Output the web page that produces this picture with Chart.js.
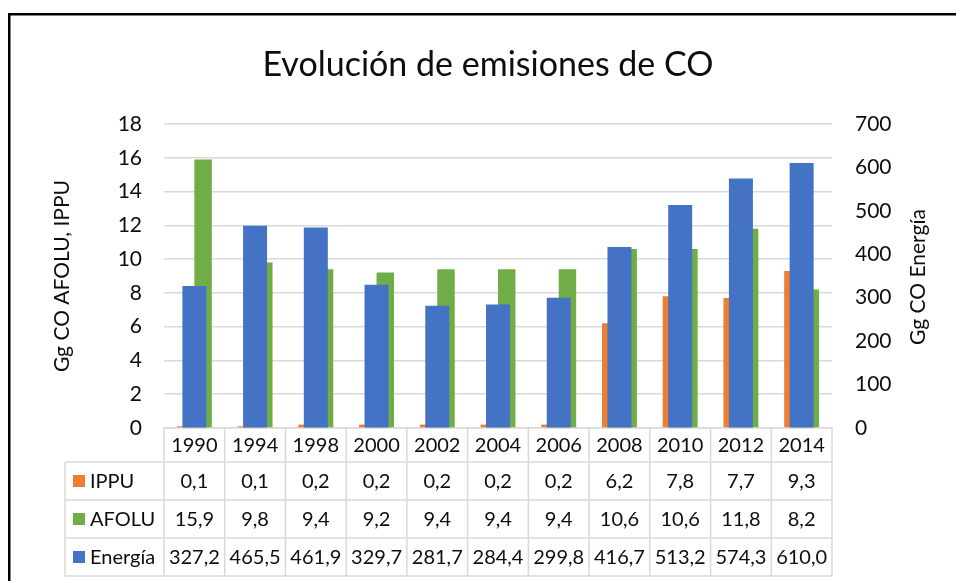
<!DOCTYPE html>
<html>
<head>
<meta charset="utf-8">
<title>Evolución de emisiones de CO</title>
<script src="https://cdn.jsdelivr.net/npm/chart.js@4.4.0/dist/chart.umd.min.js"></script>
<style>
    html, body { margin: 0; padding: 0; background: #fff; overflow: hidden; }
    #caja { position: relative; width: 956px; height: 581px; }
</style>
</head>
<body>
<div id="caja"><canvas id="grafico" width="956" height="581"></canvas></div>
<script>
// datos
const years = ['1990', '1994', '1998', '2000', '2002', '2004', '2006', '2008', '2010', '2012', '2014'];
const ippu = [0.1, 0.1, 0.2, 0.2, 0.2, 0.2, 0.2, 6.2, 7.8, 7.7, 9.3];
const afolu = [15.9, 9.8, 9.4, 9.2, 9.4, 9.4, 9.4, 10.6, 10.6, 11.8, 8.2];
const energia = [327.2, 465.5, 461.9, 329.7, 281.7, 284.4, 299.8, 416.7, 513.2, 574.3, 610.0];
const leftMax = 18, leftStep = 2;
const rightMax = 700, rightStep = 100;

const fuente = 'Lato, "Open Sans", sans-serif';
const gris = '#d9d9d9';
const texto = '#0d0d0d';

const series = [
    { name: 'IPPU', color: '#ED7D31', data: ippu },
    { name: 'AFOLU', color: '#70AD47', data: afolu },
    { name: 'Energía', color: '#4472C4', data: energia }
];

function fmt(v) {
    return v.toFixed(1).replace('.', ',');
}

// titulo, marco, titulo derecho y tabla de datos
const extras = {
    id: 'extras',
    afterDraw(chart) {
        const ctx = chart.ctx;
        const x = chart.scales.x;
        const area = chart.chartArea;
        const n = years.length;
        const w = (x.right - x.left) / n;
        const headBottom = 462, rowH = 38, legLeft = 65;
        const tableBottom = headBottom + rowH * series.length;

        ctx.save();
        // marco
        ctx.fillStyle = '#000';
        ctx.fillRect(8, 13, 948, 2.5);
        ctx.fillRect(8, 13, 2.5, 568);

        // titulo
        ctx.font = '34px ' + fuente;
        ctx.fillStyle = texto;
        ctx.textAlign = 'center';
        ctx.textBaseline = 'middle';
        ctx.fillText('Evolución de emisiones de CO', 488, 65);

        // titulo eje derecho
        ctx.save();
        ctx.translate(918, 277);
        ctx.rotate(-Math.PI / 2);
        ctx.font = '21px ' + fuente;
        ctx.fillText('Gg CO Energía', 0, 0);
        ctx.restore();

        // lineas de la tabla
        ctx.strokeStyle = gris;
        ctx.lineWidth = 1.5;
        ctx.beginPath();
        for (let i = 0; i <= n; i++) {
            const px = x.left + i * w;
            ctx.moveTo(px, area.bottom);
            ctx.lineTo(px, tableBottom);
        }
        for (let r = 0; r <= series.length; r++) {
            const py = headBottom + r * rowH;
            ctx.moveTo(legLeft, py);
            ctx.lineTo(x.right, py);
        }
        ctx.moveTo(legLeft, headBottom);
        ctx.lineTo(legLeft, tableBottom);
        ctx.stroke();

        // filas
        ctx.font = '20px ' + fuente;
        series.forEach(function(s, r) {
            const cy = headBottom + r * rowH + rowH / 2;
            ctx.fillStyle = s.color;
            ctx.fillRect(73, cy - 6, 12, 12);
            ctx.fillStyle = texto;
            ctx.textAlign = 'left';
            ctx.fillText(s.name, 90, cy + 1);
            ctx.textAlign = 'center';
            for (let i = 0; i < n; i++) {
                ctx.fillText(fmt(s.data[i]), x.getPixelForValue(i), cy + 1);
            }
        });
        ctx.restore();
    }
};

const box = document.getElementById('grafico');
const chart = new Chart(box, {
    type: 'bar',
    data: {
        labels: years,
        datasets: [
            {
                label: 'IPPU', data: ippu, backgroundColor: series[0].color,
                yAxisID: 'y', order: 1, categoryPercentage: 0.575, barPercentage: 1
            },
            {
                label: 'AFOLU', data: afolu, backgroundColor: series[1].color,
                yAxisID: 'y', order: 1, categoryPercentage: 0.575, barPercentage: 1
            },
            {
                label: 'Energía', data: energia, backgroundColor: series[2].color,
                yAxisID: 'y1', order: 0, grouped: false, categoryPercentage: 1, barPercentage: 0.395
            }
        ]
    },
    options: {
        responsive: false,
        animation: false,
        devicePixelRatio: 1,
        layout: { padding: { top: 124, left: 0, right: 0, bottom: 0 } },
        plugins: {
            legend: { display: false },
            title: { display: false },
            tooltip: { enabled: false }
        },
        scales: {
            x: {
                grid: { display: false, drawTicks: false },
                border: { display: true, color: gris, width: 1.5 },
                ticks: { color: texto, font: { family: fuente, size: 20 }, padding: 6, maxRotation: 0 },
                afterFit: function(s) { s.height = 153; }
            },
            y: {
                position: 'left',
                min: 0, max: leftMax,
                ticks: { stepSize: leftStep, color: texto, font: { family: fuente, size: 21 }, padding: 22 },
                grid: { color: gris, lineWidth: 1.5, drawTicks: false },
                border: { display: false },
                title: {
                    display: true, text: 'Gg CO AFOLU, IPPU', color: texto,
                    font: { family: fuente, size: 21 }, padding: { top: 50, bottom: 0 }
                },
                afterFit: function(s) { s.width = 164; }
            },
            y1: {
                position: 'right',
                min: 0, max: rightMax,
                ticks: { stepSize: rightStep, color: texto, font: { family: fuente, size: 21 }, padding: 23 },
                grid: { drawOnChartArea: false, drawTicks: false },
                border: { display: false },
                afterFit: function(s) { s.width = 124; }
            }
        }
    },
    plugins: [extras]
});
</script>
</body>
</html>
